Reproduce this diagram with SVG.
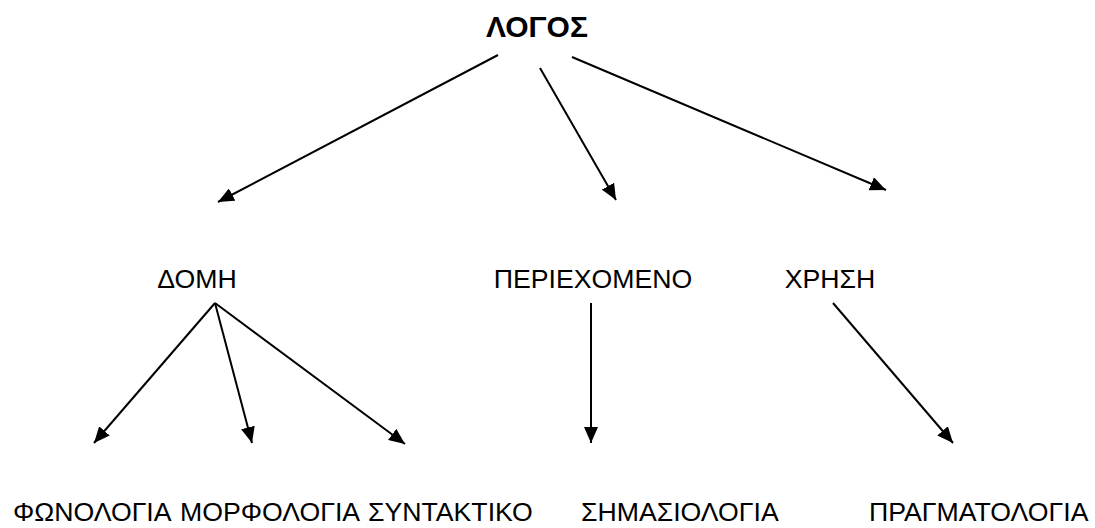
<svg xmlns="http://www.w3.org/2000/svg" width="1095" height="528" viewBox="0 0 1095 528">
<defs>
<style>
text{font-family:"Liberation Sans",Arial,sans-serif;fill:#000}
.t{font-size:26.67px}
.b{font-size:30px;font-weight:bold}
.c line{stroke:#000;stroke-width:2;marker-end:url(#ah)}
</style>
<marker id="ah" viewBox="0 0 16 14" refX="16" refY="7" markerWidth="16" markerHeight="14" markerUnits="userSpaceOnUse" orient="auto">
<path d="M0,0 L16,7 L0,14 Z" fill="#000"/>
</marker>
</defs>
<rect width="1095" height="528" fill="#fff"/>
<g id="connectors" class="c">
<line x1="498" y1="55" x2="218" y2="202"/>
<line x1="540" y1="68" x2="616" y2="200"/>
<line x1="572" y1="57" x2="886" y2="190"/>
<line x1="215" y1="303" x2="94" y2="443"/>
<line x1="215" y1="303" x2="252" y2="443"/>
<line x1="215" y1="303" x2="405" y2="444"/>
<line x1="591" y1="303" x2="591" y2="443"/>
<line x1="833" y1="303" x2="953" y2="443"/>
</g>
<g id="logos"><text class="b" x="537" y="37" text-anchor="middle">ΛΟΓΟΣ</text></g>
<g id="domi"><text class="t" x="197" y="288" text-anchor="middle">ΔΟΜΗ</text></g>
<g id="periexomeno"><text class="t" x="593" y="288" text-anchor="middle">ΠΕΡΙΕΧΟΜΕΝΟ</text></g>
<g id="xrisi"><text class="t" x="830" y="288" text-anchor="middle">ΧΡΗΣΗ</text></g>
<g id="fonologia"><text class="t" x="13" y="521">ΦΩΝΟΛΟΓΙΑ</text></g>
<g id="morfologia"><text class="t" x="180" y="521">ΜΟΡΦΟΛΟΓΙΑ</text></g>
<g id="syntaktiko"><text class="t" x="368" y="521">ΣΥΝΤΑΚΤΙΚΟ</text></g>
<g id="simasiologia"><text class="t" x="581" y="521">ΣΗΜΑΣΙΟΛΟΓΙΑ</text></g>
<g id="pragmatologia"><text class="t" x="869" y="521">ΠΡΑΓΜΑΤΟΛΟΓΙΑ</text></g>
</svg>
